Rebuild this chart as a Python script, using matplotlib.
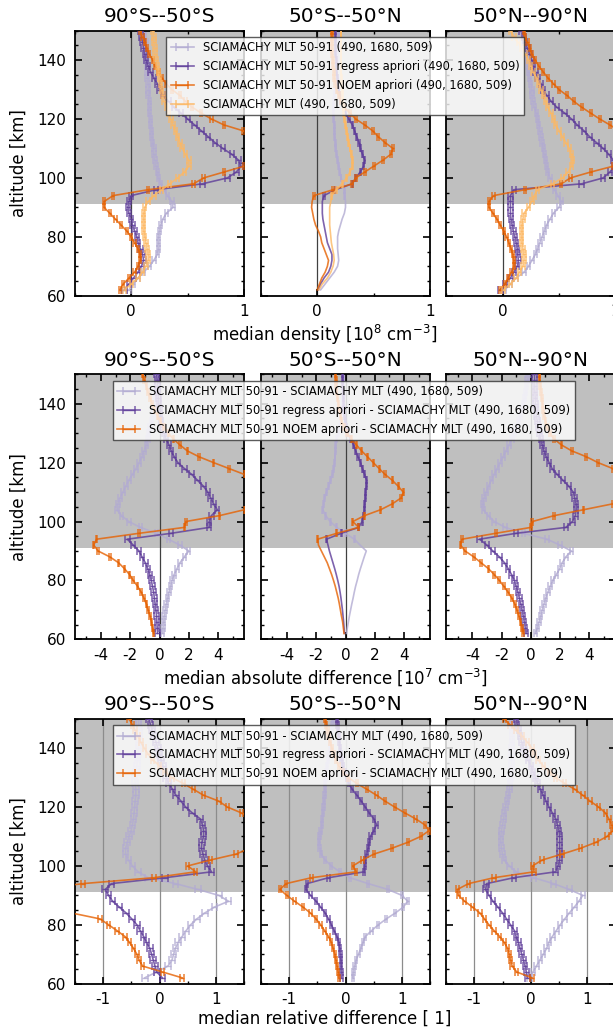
import numpy as np
import matplotlib
matplotlib.use("Agg")
import matplotlib.pyplot as plt
from matplotlib.ticker import MultipleLocator

plt.rcParams['font.family'] = ['DejaVu Sans']
plt.rcParams['axes.unicode_minus'] = False

# ---------------- data ----------------
alt = [62, 64, 66, 68, 70, 72, 74, 76, 78, 80, 82, 84, 86, 88, 90,
       92, 94, 96, 98, 100, 102, 104, 106, 108, 110, 112, 114, 116, 118, 120,
       122, 124, 126, 128, 130, 132, 134, 136, 138, 140, 142, 144, 146, 148, 150]

regions = ["90°S--50°S", "50°S--50°N", "50°N--90°N"]

labels_density = ["SCIAMACHY MLT 50-91 (490, 1680, 509)",
                  "SCIAMACHY MLT 50-91 regress apriori (490, 1680, 509)",
                  "SCIAMACHY MLT 50-91 NOEM apriori (490, 1680, 509)",
                  "SCIAMACHY MLT (490, 1680, 509)"]
labels_diff = ["SCIAMACHY MLT 50-91 - SCIAMACHY MLT (490, 1680, 509)",
               "SCIAMACHY MLT 50-91 regress apriori - SCIAMACHY MLT (490, 1680, 509)",
               "SCIAMACHY MLT 50-91 NOEM apriori - SCIAMACHY MLT (490, 1680, 509)"]

xlabels = ["median density [10$^{8}$ cm$^{-3}$]",
           "median absolute difference [10$^{7}$ cm$^{-3}$]",
           "median relative difference [ 1]"]

# Row 1: median density [1e8 cm^-3]
dens_sh_5091 = [-0.02, 0.02, 0.06, 0.11, 0.16, 0.20, 0.23, 0.24, 0.24, 0.24, 0.25, 0.26, 0.28, 0.31, 0.37,
                0.36, 0.32, 0.29, 0.26, 0.24, 0.23, 0.22, 0.21, 0.20, 0.20, 0.19, 0.18, 0.18, 0.17, 0.17,
                0.16, 0.16, 0.16, 0.15, 0.15, 0.15, 0.14, 0.14, 0.14, 0.13, 0.13, 0.13, 0.13, 0.12, 0.12]
dens_sh_regress = [-0.06, -0.02, 0.02, 0.06, 0.09, 0.11, 0.10, 0.08, 0.06, 0.05, 0.03, 0.01, 0.00, -0.02, -0.03,
                   -0.02, 0.00, 0.22, 0.63, 0.85, 0.93, 0.97, 0.95, 0.89, 0.81, 0.74, 0.68, 0.62, 0.56, 0.50,
                   0.44, 0.38, 0.33, 0.28, 0.25, 0.23, 0.20, 0.17, 0.15, 0.13, 0.12, 0.11, 0.10, 0.09, 0.08]
dens_sh_noem = [-0.10, -0.07, -0.02, 0.03, 0.06, 0.08, 0.08, 0.06, 0.03, 0.00, -0.04, -0.09, -0.14, -0.19, -0.24,
                -0.24, -0.16, 0.15, 0.55, 0.64, 0.82, 1.00, 1.20, 1.30, 1.30, 1.25, 1.12, 0.99, 0.82, 0.71,
                0.62, 0.54, 0.48, 0.43, 0.36, 0.31, 0.27, 0.24, 0.21, 0.19, 0.16, 0.14, 0.12, 0.10, 0.08]
dens_sh_mlt = [-0.06, 0.00, 0.06, 0.10, 0.13, 0.15, 0.15, 0.14, 0.13, 0.12, 0.11, 0.11, 0.11, 0.11, 0.12,
               0.15, 0.20, 0.27, 0.34, 0.41, 0.47, 0.51, 0.51, 0.48, 0.45, 0.43, 0.41, 0.39, 0.37, 0.35,
               0.33, 0.31, 0.29, 0.28, 0.27, 0.26, 0.25, 0.24, 0.23, 0.22, 0.21, 0.21, 0.20, 0.20, 0.19]

dens_tr_5091 = [0.03, 0.07, 0.11, 0.15, 0.18, 0.19, 0.185, 0.18, 0.18, 0.18, 0.19, 0.205, 0.22, 0.24, 0.25,
                0.25, 0.245, 0.24, 0.23, 0.21, 0.20, 0.19, 0.18, 0.17, 0.165, 0.16, 0.155, 0.15, 0.15, 0.145,
                0.14, 0.14, 0.145, 0.15, 0.155, 0.16, 0.165, 0.17, 0.175, 0.18, 0.18, 0.185, 0.19, 0.19, 0.19]
dens_tr_regress = [0.01, 0.03, 0.06, 0.10, 0.12, 0.13, 0.13, 0.11, 0.09, 0.08, 0.07, 0.06, 0.05, 0.045, 0.045,
                   0.045, 0.06, 0.16, 0.31, 0.34, 0.38, 0.41, 0.42, 0.40, 0.38, 0.37, 0.35, 0.33, 0.31, 0.28,
                   0.25, 0.23, 0.21, 0.20, 0.19, 0.18, 0.18, 0.17, 0.17, 0.17, 0.16, 0.16, 0.16, 0.16, 0.16]
dens_tr_noem = [0.00, 0.02, 0.04, 0.07, 0.09, 0.10, 0.08, 0.06, 0.04, 0.03, 0.01, -0.015, -0.03, -0.04, -0.05,
                -0.045, -0.03, 0.14, 0.31, 0.34, 0.42, 0.50, 0.58, 0.65, 0.67, 0.60, 0.54, 0.49, 0.42, 0.34,
                0.29, 0.24, 0.21, 0.19, 0.17, 0.16, 0.15, 0.15, 0.14, 0.14, 0.13, 0.13, 0.13, 0.13, 0.13]
dens_tr_mlt = [0.015, 0.045, 0.09, 0.12, 0.14, 0.15, 0.145, 0.135, 0.125, 0.12, 0.115, 0.11, 0.11, 0.11, 0.11,
               0.12, 0.13, 0.17, 0.22, 0.26, 0.29, 0.31, 0.31, 0.30, 0.29, 0.28, 0.27, 0.26, 0.25, 0.24,
               0.235, 0.23, 0.225, 0.22, 0.22, 0.215, 0.215, 0.21, 0.21, 0.21, 0.21, 0.21, 0.21, 0.21, 0.21]

dens_nh_5091 = [0.02, 0.07, 0.12, 0.19, 0.23, 0.26, 0.29, 0.31, 0.33, 0.35, 0.37, 0.39, 0.42, 0.45, 0.50,
                0.52, 0.49, 0.46, 0.44, 0.42, 0.40, 0.39, 0.38, 0.37, 0.36, 0.35, 0.34, 0.33, 0.32, 0.31,
                0.30, 0.28, 0.27, 0.26, 0.26, 0.25, 0.24, 0.23, 0.22, 0.21, 0.20, 0.19, 0.18, 0.18, 0.17]
dens_nh_regress = [-0.02, 0.02, 0.07, 0.10, 0.13, 0.14, 0.135, 0.13, 0.12, 0.11, 0.095, 0.085, 0.075, 0.07, 0.07,
                   0.07, 0.07, 0.10, 0.70, 0.89, 0.95, 0.99, 0.98, 0.94, 0.89, 0.83, 0.77, 0.72, 0.66, 0.61,
                   0.55, 0.48, 0.43, 0.39, 0.36, 0.34, 0.31, 0.29, 0.27, 0.26, 0.24, 0.22, 0.20, 0.19, 0.17]
dens_nh_noem = [-0.02, 0.02, 0.05, 0.08, 0.10, 0.10, 0.09, 0.075, 0.055, 0.035, 0.01, -0.02, -0.05, -0.085, -0.12,
                -0.12, -0.08, 0.20, 0.52, 0.60, 0.78, 0.98, 1.20, 1.30, 1.30, 1.25, 1.12, 1.03, 0.95, 0.86,
                0.78, 0.70, 0.63, 0.57, 0.50, 0.45, 0.40, 0.36, 0.32, 0.29, 0.26, 0.24, 0.22, 0.20, 0.19]
dens_nh_mlt = [0.01, 0.07, 0.12, 0.15, 0.18, 0.19, 0.19, 0.18, 0.17, 0.17, 0.17, 0.17, 0.18, 0.19, 0.23,
               0.26, 0.28, 0.31, 0.44, 0.53, 0.58, 0.61, 0.62, 0.61, 0.59, 0.56, 0.53, 0.50, 0.47, 0.45,
               0.43, 0.40, 0.38, 0.36, 0.34, 0.32, 0.30, 0.27, 0.25, 0.23, 0.20, 0.17, 0.14, 0.10, 0.07]

# Row 2: median absolute difference [1e7 cm^-3]
abs_sh_5091 = [0.19, 0.24, 0.28, 0.32, 0.39, 0.46, 0.55, 0.65, 0.75, 0.86, 1.0, 1.2, 1.4, 1.7, 2.0,
               1.4, 0.6, -0.2, -1.3, -2.1, -2.6, -2.9, -2.85, -2.7, -2.5, -2.3, -2.1, -1.85, -1.6, -1.4,
               -1.2, -1.05, -0.9, -0.8, -0.75, -0.65, -0.55, -0.45, -0.4, -0.35, -0.3, -0.27, -0.24, -0.22, -0.2]
abs_sh_regress = [-0.13, -0.16, -0.18, -0.2, -0.25, -0.3, -0.35, -0.4, -0.48, -0.56, -0.67, -0.8, -0.97, -1.2, -1.4,
                  -1.8, -2.2, 0.8, 3.4, 3.4, 3.55, 3.95, 3.7, 3.5, 3.3, 3.0, 2.6, 2.2, 1.7, 1.26,
                  1.0, 0.8, 0.65, 0.45, 0.3, 0.2, 0.1, 0.05, 0.0, -0.05, -0.08, -0.1, -0.13, -0.16, -0.2]
abs_sh_noem = [-0.41, -0.48, -0.56, -0.65, -0.78, -0.9, -1.07, -1.25, -1.5, -1.8, -2.05, -2.4, -2.8, -3.4, -4.2,
               -4.5, -4.3, -1.4, 1.7, 1.8, 4.1, 5.8, 7.0, 8.0, 8.5, 8.0, 7.0, 5.8, 4.75, 3.7,
               2.7, 1.9, 1.4, 0.95, 0.6, 0.3, 0.05, -0.15, -0.35, -0.5, -0.65, -0.8, -0.9, -1.05, -1.15]

abs_tr_5091 = [0.07, 0.13, 0.2, 0.27, 0.35, 0.43, 0.52, 0.6, 0.69, 0.8, 0.9, 1.02, 1.15, 1.28, 1.42,
               1.0, 0.6, 0.0, -0.6, -1.05, -1.35, -1.55, -1.5, -1.44, -1.3, -1.15, -1.03, -0.9, -0.8, -0.75,
               -0.72, -0.7, -0.68, -0.6, -0.5, -0.42, -0.35, -0.3, -0.25, -0.2, -0.18, -0.15, -0.13, -0.12, -0.1]
abs_tr_regress = [-0.07, -0.1, -0.13, -0.17, -0.21, -0.26, -0.31, -0.37, -0.44, -0.53, -0.63, -0.74, -0.86, -0.98, -1.1,
                  -1.2, -1.3, -0.3, 0.9, 1.14, 1.22, 1.28, 1.32, 1.35, 1.37, 1.42, 1.44, 1.3, 1.15, 1.03,
                  0.85, 0.7, 0.55, 0.35, 0.15, 0.05, -0.02, -0.07, -0.1, -0.12, -0.14, -0.16, -0.18, -0.19, -0.2]
abs_tr_noem = [-0.1, -0.15, -0.2, -0.28, -0.35, -0.42, -0.5, -0.6, -0.7, -0.82, -0.95, -1.1, -1.25, -1.45, -1.65,
               -1.85, -1.9, -0.6, 0.9, 0.5, 1.3, 2.4, 3.2, 3.8, 3.95, 3.6, 3.2, 2.7, 2.3, 1.9,
               1.5, 1.1, 0.75, 0.4, 0.1, -0.1, -0.25, -0.35, -0.45, -0.5, -0.55, -0.6, -0.65, -0.65, -0.7]

abs_nh_5091 = [0.32, 0.45, 0.57, 0.68, 0.78, 0.9, 1.02, 1.17, 1.33, 1.5, 1.75, 1.98, 2.15, 2.4, 2.77,
               2.0, 1.1, -0.5, -1.75, -2.5, -2.9, -3.25, -3.3, -3.2, -3.05, -2.9, -2.7, -2.5, -2.3, -2.1,
               -1.9, -1.7, -1.5, -1.3, -1.15, -1.0, -0.85, -0.7, -0.6, -0.5, -0.42, -0.35, -0.3, -0.25, -0.2]
abs_nh_regress = [-0.32, -0.38, -0.45, -0.52, -0.6, -0.68, -0.78, -0.88, -1.0, -1.12, -1.32, -1.55, -1.8, -2.15, -2.6,
                  -3.0, -3.5, -1.0, 2.4, 2.85, 3.05, 3.1, 3.1, 3.0, 2.9, 2.6, 2.2, 1.8, 1.45, 1.25,
                  1.05, 0.9, 0.78, 0.68, 0.6, 0.52, 0.45, 0.38, 0.35, 0.32, 0.3, 0.28, 0.27, 0.26, 0.25]
abs_nh_noem = [-0.52, -0.6, -0.7, -0.82, -0.95, -1.1, -1.3, -1.55, -1.85, -2.15, -2.5, -2.9, -3.4, -3.9, -4.5,
               -4.8, -4.7, -2.4, 0.0, 0.1, 1.6, 3.6, 5.6, 6.6, 7.3, 7.5, 7.2, 6.5, 5.6, 4.6,
               3.8, 2.8, 2.1, 1.6, 1.3, 1.1, 1.0, 0.9, 0.85, 0.8, 0.75, 0.7, 0.65, 0.6, 0.6]

# Row 3: median relative difference [1]
rel_sh_5091 = [-0.26, -0.05, 0.15, 0.22, 0.25, 0.28, 0.33, 0.4, 0.47, 0.55, 0.66, 0.8, 0.97, 1.22, 1.05,
               0.68, 0.28, -0.2, -0.38, -0.48, -0.55, -0.6, -0.6, -0.57, -0.54, -0.5, -0.48, -0.46, -0.45, -0.44,
               -0.43, -0.42, -0.42, -0.43, -0.44, -0.42, -0.4, -0.39, -0.38, -0.37, -0.37, -0.36, -0.36, -0.37, -0.37]
rel_sh_regress = [0.05, -0.05, -0.08, -0.11, -0.14, -0.17, -0.23, -0.28, -0.34, -0.4, -0.49, -0.59, -0.71, -0.83, -0.9,
                  -0.96, -0.85, 0.1, 0.92, 0.85, 0.8, 0.77, 0.74, 0.75, 0.78, 0.78, 0.76, 0.72, 0.58, 0.46,
                  0.38, 0.29, 0.23, 0.16, 0.12, 0.09, 0.06, 0.03, 0.0, -0.03, -0.06, -0.1, -0.13, -0.16, -0.19]
rel_sh_noem = [0.4, 0.05, -0.3, -0.36, -0.4, -0.46, -0.53, -0.61, -0.75, -0.9, -1.05, -1.55, -1.8, -2.0, -2.2,
               -2.2, -1.35, -0.1, 0.64, 0.5, 0.9, 1.35, 1.6, 1.8, 1.9, 1.9, 1.8, 1.65, 1.45, 1.2,
               1.05, 0.78, 0.6, 0.42, 0.22, 0.1, 0.0, -0.12, -0.2, -0.27, -0.33, -0.38, -0.43, -0.48, -0.54]

rel_tr_5091 = [0.13, 0.14, 0.16, 0.19, 0.23, 0.27, 0.31, 0.35, 0.46, 0.58, 0.72, 0.88, 1.02, 1.1, 1.0,
               0.75, 0.4, 0.08, -0.1, -0.25, -0.36, -0.43, -0.46, -0.47, -0.46, -0.44, -0.42, -0.41, -0.4, -0.39,
               -0.38, -0.37, -0.36, -0.36, -0.35, -0.34, -0.33, -0.31, -0.3, -0.28, -0.27, -0.25, -0.24, -0.23, -0.22]
rel_tr_regress = [-0.07, -0.07, -0.075, -0.08, -0.09, -0.1, -0.12, -0.15, -0.2, -0.25, -0.3, -0.36, -0.44, -0.52, -0.62,
                  -0.7, -0.68, -0.3, 0.33, 0.34, 0.35, 0.37, 0.4, 0.42, 0.44, 0.5, 0.55, 0.5, 0.42, 0.35,
                  0.28, 0.2, 0.12, 0.06, 0.02, -0.02, -0.05, -0.07, -0.08, -0.1, -0.11, -0.12, -0.13, -0.14, -0.15]
rel_tr_noem = [-0.12, -0.13, -0.15, -0.17, -0.19, -0.22, -0.25, -0.3, -0.37, -0.44, -0.52, -0.62, -0.75, -0.9, -1.04,
               -1.16, -1.05, -0.6, 0.19, 0.13, 0.3, 0.5, 0.82, 1.1, 1.33, 1.48, 1.4, 1.24, 1.05, 0.87,
               0.7, 0.55, 0.38, 0.2, 0.05, -0.05, -0.12, -0.17, -0.21, -0.24, -0.27, -0.3, -0.32, -0.34, -0.36]

rel_nh_5091 = [-0.02, 0.04, 0.1, 0.16, 0.22, 0.28, 0.32, 0.38, 0.45, 0.52, 0.6, 0.68, 0.77, 0.85, 0.92,
               0.68, 0.4, 0.05, -0.26, -0.38, -0.47, -0.5, -0.52, -0.53, -0.53, -0.52, -0.5, -0.48, -0.47, -0.45,
               -0.42, -0.4, -0.38, -0.37, -0.36, -0.35, -0.34, -0.34, -0.34, -0.34, -0.33, -0.33, -0.33, -0.33, -0.33]
rel_nh_regress = [-0.06, -0.08, -0.1, -0.13, -0.16, -0.19, -0.22, -0.26, -0.29, -0.36, -0.43, -0.5, -0.58, -0.67, -0.74,
                  -0.8, -0.78, -0.3, 0.44, 0.48, 0.51, 0.51, 0.51, 0.51, 0.51, 0.5, 0.47, 0.44, 0.38, 0.32,
                  0.27, 0.22, 0.17, 0.12, 0.08, 0.04, 0.0, -0.05, -0.09, -0.13, -0.16, -0.19, -0.21, -0.24, -0.26]
rel_nh_noem = [0.02, -0.25, -0.33, -0.36, -0.38, -0.41, -0.47, -0.55, -0.65, -0.74, -0.82, -0.9, -1.03, -1.17, -1.28,
               -1.3, -1.1, -0.65, 0.06, 0.03, 0.2, 0.55, 0.88, 1.15, 1.35, 1.45, 1.43, 1.38, 1.32, 1.2,
               1.05, 0.92, 0.78, 0.6, 0.44, 0.33, 0.22, 0.13, 0.06, 0.02, -0.06, -0.15, -0.26, -0.37, -0.47]

# typical error-bar half widths per row / column (data units)
err_density = [[0.015, 0.02, 0.01, 0.015], [0.004, 0.006, 0.008, 0.004], [0.015, 0.02, 0.01, 0.015]]
err_abs = [[0.12, 0.15, 0.05], [0.03, 0.04, 0.04], [0.12, 0.15, 0.06]]
err_rel = [[0.05, 0.05, 0.03], [0.02, 0.02, 0.02], [0.04, 0.04, 0.03]]

# ---------------- style ----------------
c_lp = '#b2abd2'
c_pu = '#5e3c99'
c_or = '#e66101'
c_lo = '#fdb863'

W, H = 613.0, 1030.0
fig = plt.figure(figsize=(6.13, 10.30), dpi=100)

col_left = [74.7, 260.7, 446.0]
ax_w = 169.6
row_top = [30.7, 374.3, 718.7]
ax_h = 265.0

rows = [
    dict(series=[[dens_sh_5091, dens_sh_regress, dens_sh_noem, dens_sh_mlt],
                 [dens_tr_5091, dens_tr_regress, dens_tr_noem, dens_tr_mlt],
                 [dens_nh_5091, dens_nh_regress, dens_nh_noem, dens_nh_mlt]],
         colors=[c_lp, c_pu, c_or, c_lo], labels=labels_density, err=err_density,
         xlim=(-0.5, 1.0), major=1.0, minor=0.5, grid=False,
         legend=(166.0, 36.7)),
    dict(series=[[abs_sh_5091, abs_sh_regress, abs_sh_noem],
                 [abs_tr_5091, abs_tr_regress, abs_tr_noem],
                 [abs_nh_5091, abs_nh_regress, abs_nh_noem]],
         colors=[c_lp, c_pu, c_or], labels=labels_diff, err=err_abs,
         xlim=(-5.8, 5.8), major=2.0, minor=1.0, grid=False,
         legend=(112.6, 380.7)),
    dict(series=[[rel_sh_5091, rel_sh_regress, rel_sh_noem],
                 [rel_tr_5091, rel_tr_regress, rel_tr_noem],
                 [rel_nh_5091, rel_nh_regress, rel_nh_noem]],
         colors=[c_lp, c_pu, c_or], labels=labels_diff, err=err_rel,
         xlim=(-1.5, 1.5), major=1.0, minor=0.5, grid=True,
         legend=(112.6, 725.0)),
]

xlabel_y = [335.0, 677.0, 1019.0]

alt_arr = np.array(alt, dtype=float)

for r, spec in enumerate(rows):
    handles = None
    for c in range(3):
        ax = fig.add_axes([col_left[c] / W, 1 - (row_top[r] + ax_h) / H, ax_w / W, ax_h / H])
        ax.axhspan(91, 150, color='0.75', lw=0, zorder=0)
        if spec['grid']:
            for v in (-1, 0, 1):
                ax.axvline(v, color='0.55', lw=0.9, zorder=1)
        else:
            ax.axvline(0, color='0.25', lw=0.9, zorder=1)
        hs = []
        for k, vals in enumerate(spec['series'][c]):
            e = np.full(len(alt), spec['err'][c][k])
            if c == 1 and r < 2:
                e = np.where(alt_arr >= 94, e, np.nan)
            h = ax.errorbar(vals, alt, xerr=e, color=spec['colors'][k], alpha=0.8,
                            lw=1.2, elinewidth=1.0, capsize=2.6, capthick=1.1,
                            label=spec['labels'][k], zorder=2 + k)
            hs.append(h)
        if handles is None:
            handles = hs
        ax.set_xlim(*spec['xlim'])
        ax.set_ylim(60, 150)
        ax.xaxis.set_major_locator(MultipleLocator(spec['major']))
        ax.xaxis.set_minor_locator(MultipleLocator(spec['minor']))
        ax.yaxis.set_major_locator(MultipleLocator(20))
        ax.yaxis.set_minor_locator(MultipleLocator(5))
        ax.tick_params(which='both', direction='in', top=True, right=True, labelsize=11, pad=6)
        ax.tick_params(which='major', length=5, width=1.2)
        ax.tick_params(which='minor', length=2.5, width=1.0)
        for sp in ax.spines.values():
            sp.set_linewidth(1.3)
        ax.set_title(regions[c], fontsize=14.5)
        if c == 0:
            ax.set_ylabel('altitude [km]', fontsize=12, labelpad=7)
        else:
            ax.tick_params(labelleft=False)
    fig.text(325.0 / W, 1 - xlabel_y[r] / H, xlabels[r], ha='center', va='center', fontsize=12)
    lx, ly = spec['legend']
    leg = fig.legend(handles, spec['labels'], loc='upper left',
                     bbox_to_anchor=(lx / W, 1 - ly / H), borderaxespad=0,
                     fontsize=8.3, frameon=True, fancybox=False, framealpha=0.8,
                     facecolor='white', edgecolor='0.2')
    leg.get_frame().set_linewidth(1.0)

fig.savefig('out.png', dpi=100)
